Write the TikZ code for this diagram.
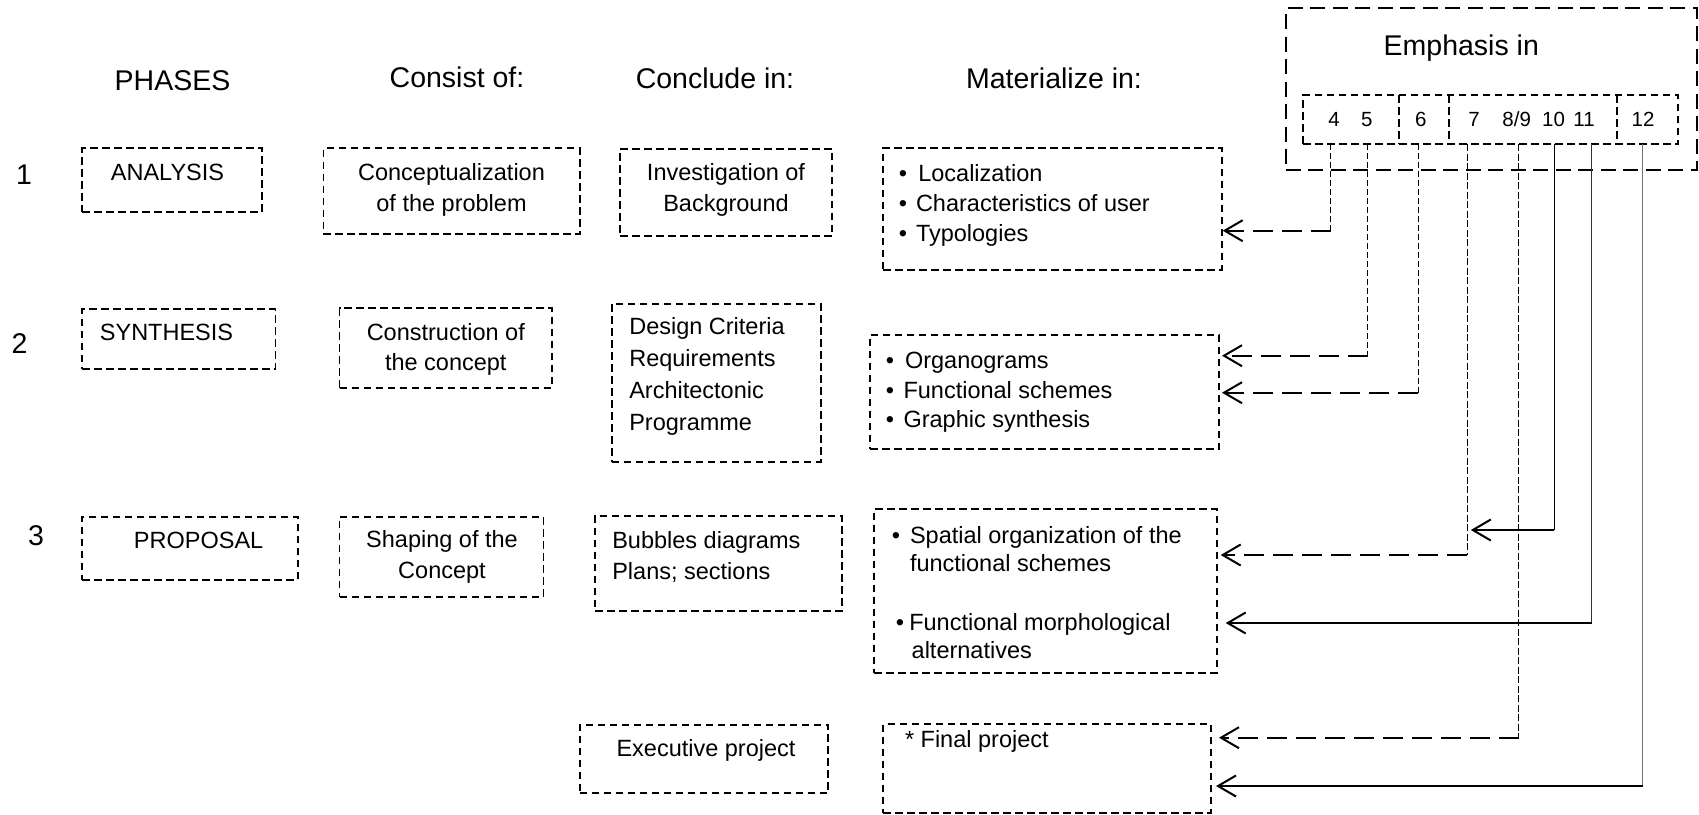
\documentclass[tikz,border=0pt]{standalone}
\usepackage{fontspec}
\setmainfont{Liberation Sans}
\usetikzlibrary{arrows.meta,fit,calc}
\begin{document}
\begin{tikzpicture}[x=1pt,y=-1pt,
  every node/.style={inner sep=0pt,outer sep=0pt},
  body/.style={font=\fontsize{23.5}{28}\selectfont},
  head/.style={font=\fontsize{28.5}{34}\selectfont},
  digits/.style={font=\fontsize{20.5}{24}\selectfont},
  dline/.style={line width=1.8pt,dash pattern=on 7.5pt off 4.5pt},
  dbox/.style={draw,dline,fit={#1},inner sep=0pt},
  outerbox/.style={draw,line width=2pt,dash pattern=on 15pt off 7.5pt,fit={#1},inner sep=0pt},
  tip/.style={-{Straight Barb[length=18pt,width=21pt,line width=2pt]}},
  vdash/.style={line width=1pt,dash pattern=on 6pt off 3pt},
  vlong/.style={line width=1pt,dash pattern=on 7pt off 2.5pt},
  vsolid/.style={line width=1pt},
  hdash/.style={tip,line width=2pt,dash pattern=on 20pt off 9pt},
  hsolid/.style={tip,line width=2pt},
]

% column headings
\node[head,anchor=base] (hph) at (172.5,90) {PHASES};
\node[head,anchor=base] (hco) at (457,87) {Consist of:};
\node[head,anchor=base] (hcl) at (715,88) {Conclude in:};
\node[head,anchor=base] (hma) at (1054,88) {Materialize in:};

% phase numbers
\node[head,anchor=base] (n1) at (24,184) {1};
\node[head,anchor=base] (n2) at (19.5,353) {2};
\node[head,anchor=base] (n3) at (36,545) {3};

% phases
\node[dbox={(82.3,148.3) (262.2,211.7)}] (p1) {};
\node[body,anchor=base] (p1t) at (167.5,180) {ANALYSIS};
\node[dbox={(82.3,309.3) (275.5,369.3)}] (p2) {};
\node[body,anchor=base] (p2t) at (166.5,340.7) {SYNTHESIS};
\node[dbox={(82.3,516.7) (297.7,580)}] (p3) {};
\node[body,anchor=base] (p3t) at (198.6,548.3) {PROPOSAL};

% consist of
\node[dbox={(323.4,148.3) (579.8,234.3)}] (k1) {};
\node[body,anchor=base] (k1a) at (451.5,180) {Conceptualization};
\node[body,anchor=base] (k1b) at (451.5,211) {of the problem};
\node[dbox={(339.5,308.3) (551.9,387.7)}] (k2) {};
\node[body,anchor=base] (k2a) at (445.8,340.7) {Construction of};
\node[body,anchor=base] (k2b) at (445.8,370.7) {the concept};
\node[dbox={(339.5,516.7) (543.4,596.7)}] (k3) {};
\node[body,anchor=base] (k3a) at (442,547.7) {Shaping of the};
\node[body,anchor=base] (k3b) at (442,578.3) {Concept};

% conclude in
\node[dbox={(620,149) (832.3,236)}] (c1) {};
\node[body,anchor=base] (c1a) at (726,180.7) {Investigation of};
\node[body,anchor=base] (c1b) at (726,211.7) {Background};
\node[dbox={(611.7,304) (820.7,461.7)}] (c2) {};
\node[body,anchor=base west] (c2a) at (629.3,334) {Design Criteria};
\node[body,anchor=base west] (c2b) at (629.3,366) {Requirements};
\node[body,anchor=base west] (c2c) at (629.3,398) {Architectonic};
\node[body,anchor=base west] (c2d) at (629.3,430) {Programme};
\node[dbox={(595,516) (841.7,611)}] (c3) {};
\node[body,anchor=base west] (c3a) at (612.3,548.3) {Bubbles diagrams};
\node[body,anchor=base west] (c3b) at (612.3,579.3) {Plans; sections};
\node[dbox={(579.7,725) (828.3,793.3)}] (c4) {};
\node[body,anchor=base] (c4a) at (706,756) {Executive project};

% materialize in
\node[dbox={(883.3,148.3) (1221.7,270)}] (m1) {};
\node[body,anchor=base] (m1p) at (903,181.7) {•};
\node[body,anchor=base west] (m1a) at (918.3,181.7) {Localization};
\node[body,anchor=base] (m1q) at (903,211.7) {•};
\node[body,anchor=base west] (m1b) at (916,211.7) {Characteristics of user};
\node[body,anchor=base] (m1r) at (903,241) {•};
\node[body,anchor=base west] (m1c) at (916,241) {Typologies};

\node[dbox={(870,335) (1219,449.3)}] (m2) {};
\node[body,anchor=base] (m2p) at (890,368.3) {•};
\node[body,anchor=base west] (m2a) at (905,368.3) {Organograms};
\node[body,anchor=base] (m2q) at (890,398.3) {•};
\node[body,anchor=base west] (m2b) at (903.5,398.3) {Functional schemes};
\node[body,anchor=base] (m2r) at (890,427.7) {•};
\node[body,anchor=base west] (m2c) at (903.5,427.7) {Graphic synthesis};

\node[dbox={(874.3,509) (1216.7,672.7)}] (m3) {};
\node[body,anchor=base] (m3p) at (896,543.3) {•};
\node[body,anchor=base west] (m3a) at (910,543.3) {Spatial organization of the};
\node[body,anchor=base west] (m3b) at (910,571.7) {functional schemes};
\node[body,anchor=base] (m3q) at (900,630) {•};
\node[body,anchor=base west] (m3c) at (909.3,630) {Functional morphological};
\node[body,anchor=base west] (m3d) at (911.7,658.3) {alternatives};

\node[dbox={(883.3,724.3) (1211,812.7)}] (m4) {};
\node[body,anchor=base west] (m4a) at (905,747.3) {* Final project};

% emphasis panel: outer frame, one row of groups split by dashed dividers
\node[outerbox={(1285.7,8.3) (1697,170)}] (emph) {};
\node[head,anchor=base] (emt) at (1461.3,55) {Emphasis in};
\node[dbox={(1303.3,95) (1678.3,144)}] (erow) {};
\foreach \xd in {1399.3,1449.3,1616.7}
  \draw[dline] (\xd,95) -- (\xd,144);
\node[digits,anchor=base] (d4) at (1334,126) {4};
\node[digits,anchor=base] (d5) at (1366.7,126) {5};
\node[digits,anchor=base] (d6) at (1420.7,126) {6};
\node[digits,anchor=base] (d7) at (1474,126) {7};
\node[digits,anchor=base] (d89) at (1516.7,126) {8/9};
\node[digits,anchor=base] (d10) at (1553.5,126) {10};
\node[digits,anchor=base] (d11) at (1584,126) {11};
\node[digits,anchor=base] (d12) at (1643,126) {12};

% bends of the connectors
\coordinate (k4) at (1330.7,230.7);
\coordinate (k5) at (1367.7,355.7);
\coordinate (k6) at (1418.3,392.7);
\coordinate (k7) at (1467.3,555);
\coordinate (k10) at (1554.3,530);
\coordinate (k11) at (1591.7,623);
\coordinate (k89) at (1518.5,737.7);
\coordinate (k12) at (1642.5,786);

% vertical drops from the emphasis row
\draw[vdash] (k4 |- erow.south) -- (k4);
\draw[vdash] (k5 |- erow.south) -- (k5);
\draw[vdash] (k6 |- erow.south) -- (k6);
\draw[vlong] (k7 |- erow.south) -- (k7);
\draw[vlong] (k89 |- erow.south) -- (k89);
\draw[vsolid] (k10 |- erow.south) -- (k10);
\draw[vsolid,black!80] (k11 |- erow.south) -- (k11);
\draw[line width=1.4pt,black!55] (k12 |- erow.south) -- (k12);

% arrows into the boxes
\draw[hdash] (k4) -- ($(m1.east |- k4)+(1,0)$);
\draw[hdash] (k5) -- ($(m2.east |- k5)+(3,0)$);
\draw[hdash] (k6) -- ($(m2.east |- k6)+(3,0)$);
\draw[hdash] (k7) -- ($(m3.east |- k7)+(4,0)$);
\draw[hsolid] (k10) -- ($(k7 |- k10)+(3.5,0)$);
\draw[hsolid] (k11) -- ($(m3.east |- k11)+(9,0)$);
\draw[hdash] (k89) -- ($(m4.east |- k89)+(8,0)$);
\draw[hsolid] (k12) -- ($(m4.east |- k12)+(5,0)$);

\pgfresetboundingbox
\useasboundingbox (0,0) rectangle (1699,814);
\end{tikzpicture}
\end{document}
